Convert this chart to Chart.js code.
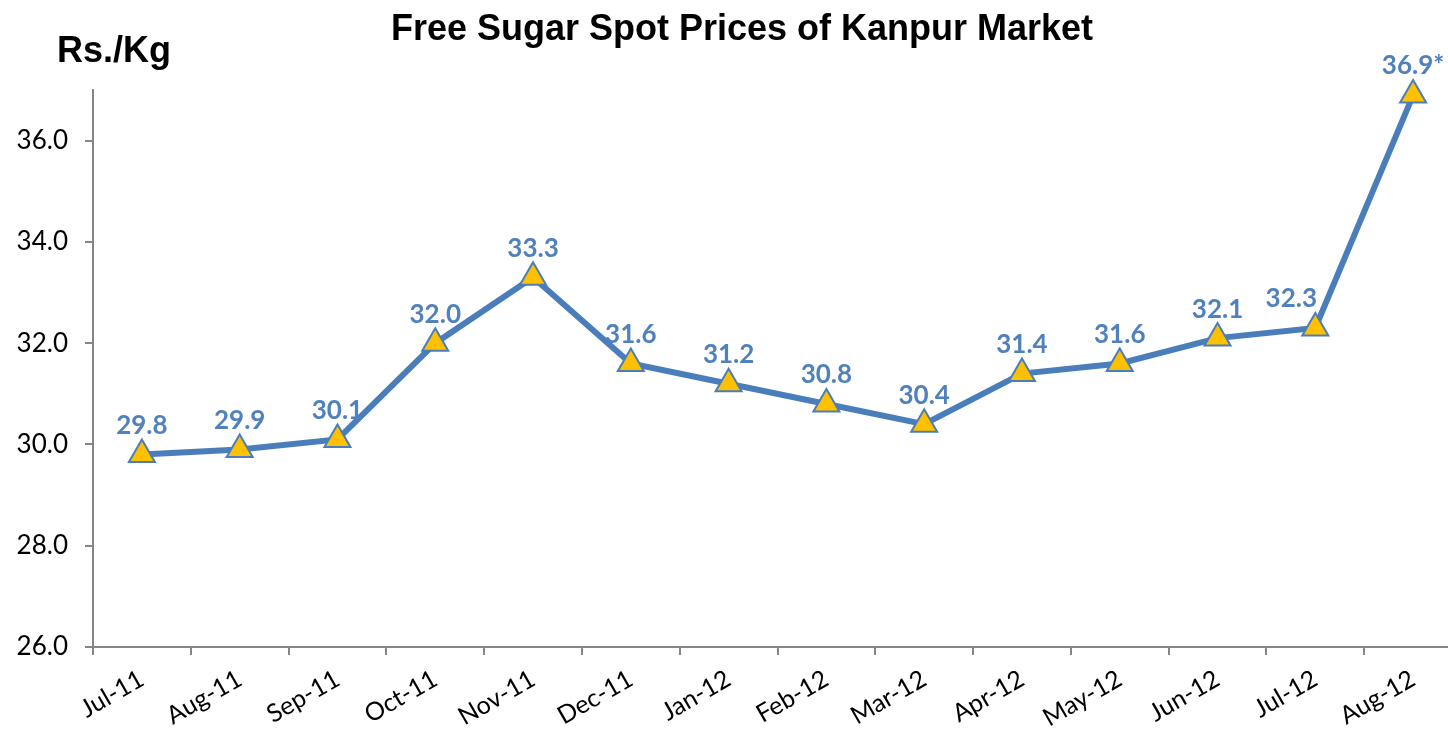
<!DOCTYPE html>
<html>
<head>
<meta charset="utf-8">
<script src="https://cdn.jsdelivr.net/npm/chart.js@4"></script>
<style>
  html, body { margin: 0; padding: 0; background: #fff; overflow: hidden; }
  canvas { display: block; }
</style>
</head>
<body>
<canvas id="chart" width="1479" height="729"></canvas>
<script>
// month labels
var months = ['Jul-11', 'Aug-11', 'Sep-11', 'Oct-11', 'Nov-11', 'Dec-11', 'Jan-12',
              'Feb-12', 'Mar-12', 'Apr-12', 'May-12', 'Jun-12', 'Jul-12', 'Aug-12'];
// spot prices, Rs./Kg
var prices = [29.8, 29.9, 30.1, 32.0, 33.3, 31.6, 31.2, 30.8, 30.4, 31.4, 31.6, 32.1, 32.3, 36.9];
// text shown above each point
var priceLabels = ['29.8', '29.9', '30.1', '32.0', '33.3', '31.6', '31.2',
                   '30.8', '30.4', '31.4', '31.6', '32.1', '32.3', '36.9*'];

var axisGrey = '#868686';
var lineBlue = '#4A7EBB';

// title, unit label and the value labels
var textPlugin = {
    id: 'texts',
    afterDatasetsDraw: function (chart) {
        var ctx = chart.ctx;
        var meta = chart.getDatasetMeta(0);
        ctx.save();
        ctx.fillStyle = '#4F81BD';
        ctx.font = 'bold 26px Lato';
        ctx.textAlign = 'center';
        ctx.textBaseline = 'middle';
        meta.data.forEach(function (pt, i) {
            var x = pt.x;
            // when the next segment climbs steeply, move the label off the line
            var next = meta.data[i + 1];
            if (next && pt.y - next.y > 100) x -= 24;
            ctx.fillText(priceLabels[i], x, pt.y - 29);
        });
        ctx.restore();
    },
    afterDraw: function (chart) {
        var ctx = chart.ctx;
        ctx.save();
        ctx.fillStyle = '#000';
        ctx.font = 'bold 36px "Liberation Sans", Arial';
        ctx.textAlign = 'center';
        ctx.textBaseline = 'middle';
        ctx.fillText('Free Sugar Spot Prices of Kanpur Market', 742, 30);
        ctx.fillText('Rs./Kg', 114, 52);
        ctx.restore();
    }
};

new Chart(document.getElementById('chart').getContext('2d'), {
    type: 'line',
    data: {
        labels: months,
        datasets: [{
            data: prices,
            borderColor: lineBlue,
            borderWidth: 6,
            tension: 0,
            pointStyle: 'triangle',
            pointRadius: 15,
            pointHoverRadius: 15,
            pointBackgroundColor: '#FFC000',
            pointBorderColor: lineBlue,
            pointBorderWidth: 2,
            clip: false
        }]
    },
    options: {
        responsive: false,
        animation: false,
        devicePixelRatio: 1,
        layout: { padding: { top: 90, right: 1, left: 0, bottom: 0 } },
        plugins: {
            legend: { display: false },
            title: { display: false },
            tooltip: { enabled: false }
        },
        scales: {
            x: {
                offset: true,
                grid: {
                    offset: true,
                    drawOnChartArea: false,
                    drawTicks: true,
                    tickLength: 8,
                    color: axisGrey,
                    lineWidth: 2
                },
                border: { color: axisGrey, width: 2 },
                ticks: {
                    color: '#000',
                    font: { family: 'Lato', size: 25 },
                    minRotation: 30,
                    maxRotation: 30,
                    autoSkip: false,
                    padding: 9
                },
                afterFit: function (scale) { scale.height = 82; }
            },
            y: {
                min: 26,
                max: 37,
                grid: {
                    drawOnChartArea: false,
                    drawTicks: true,
                    tickLength: 8,
                    color: axisGrey,
                    lineWidth: 2
                },
                border: { color: axisGrey, width: 2 },
                ticks: {
                    stepSize: 2,
                    includeBounds: false,
                    color: '#000',
                    font: { family: 'Lato', size: 26 },
                    padding: 17,
                    callback: function (v) { return v.toFixed(1); }
                },
                afterFit: function (scale) { scale.width = 93; }
            }
        }
    },
    plugins: [textPlugin]
});
</script>
</body>
</html>
